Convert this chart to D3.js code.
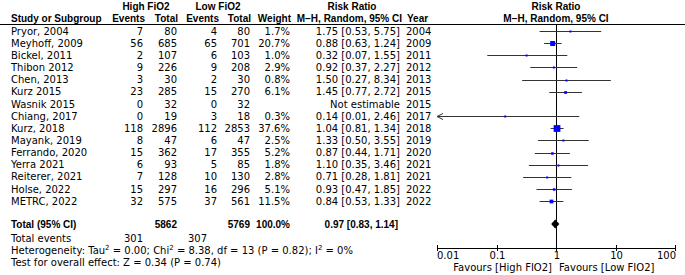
<!DOCTYPE html>
<html>
<head>
<meta charset="utf-8">
<script src="https://cdn.jsdelivr.net/npm/d3@7"></script>
<style>
  html, body { margin: 0; padding: 0; background: #fff; }
  svg { display: block; }
  text { font-family: "DejaVu Sans", sans-serif; font-size: 10px; fill: #000; }
  text.b { font-family: "Liberation Sans", Arial, sans-serif; font-weight: bold; font-size: 10px; }
</style>
</head>
<body>
<div id="chart"></div>
<script>
/* -------------------------------------------------------
   DATOS
------------------------------------------------------- */
const studies = ["Pryor, 2004", "Meyhoff, 2009", "Bickel, 2011", "Thibon 2012", "Chen, 2013",
    "Kurz 2015", "Wasnik 2015", "Chiang, 2017", "Kurz, 2018", "Mayank, 2019", "Ferrando, 2020",
    "Yerra 2021", "Reiterer, 2021", "Holse, 2022", "METRC, 2022"];
const highEvents = [7, 56, 2, 9, 3, 23, 0, 0, 118, 8, 15, 6, 7, 15, 32];
const highTotal = [80, 685, 107, 226, 30, 285, 32, 19, 2896, 47, 362, 93, 128, 297, 575];
const lowEvents = [4, 65, 6, 9, 2, 15, 0, 3, 112, 6, 17, 5, 10, 16, 37];
const lowTotal = [80, 701, 103, 208, 30, 270, 32, 18, 2853, 47, 355, 85, 130, 296, 561];
const weights = [1.7, 20.7, 1.0, 2.9, 0.8, 6.1, null, 0.3, 37.6, 2.5, 5.2, 1.8, 2.8, 5.1, 11.5];
const rr = [1.75, 0.88, 0.32, 0.92, 1.50, 1.45, null, 0.14, 1.04, 1.33, 0.87, 1.10, 0.71, 0.93, 0.84];
const ciLow = [0.53, 0.63, 0.07, 0.37, 0.27, 0.77, null, 0.01, 0.81, 0.50, 0.44, 0.35, 0.28, 0.47, 0.53];
const ciHigh = [5.75, 1.24, 1.55, 2.27, 8.34, 2.72, null, 2.46, 1.34, 3.55, 1.71, 3.46, 1.81, 1.85, 1.33];
const years = [2004, 2009, 2011, 2012, 2013, 2015, 2015, 2017, 2018, 2019, 2020, 2021, 2021, 2022, 2022];

const total = { high: 5862, low: 5769, weight: "100.0%", rr: 0.97, lo: 0.83, hi: 1.14 };
const totalEvents = [301, 307];
const tickValues = [0.01, 0.1, 1, 10, 100];
const tickLabels = ["0.01", "0.1", "1", "10", "100"];

/* -------------------------------------------------------
   LAYOUT
------------------------------------------------------- */
const W = 685, H = 275;
const rowY = i => 31 + i * 12.15;
const totalY = 224;

const svg = d3.select("#chart").append("svg").attr("width", W).attr("height", H);

const x = d3.scaleLog().domain([0.01, 100]).range([437, 675]);

function txt(xp, yp, s, anchor, cls) {
    return svg.append("text")
        .attr("x", xp).attr("y", yp)
        .attr("text-anchor", anchor || "start")
        .attr("class", cls || null)
        .text(s);
}

// columnas (borde derecho, salvo study / year)
const col = { study: 11, hEv: 143, hTot: 177, lEv: 217, lTot: 250, w: 290, ci: 400, year: 406 };

/* -------------------------------------------------------
   CABECERA
------------------------------------------------------- */
txt(146, 10, "High FiO2", "middle", "b");
txt(218, 10, "Low FiO2", "middle", "b");
txt(352, 10, "Risk Ratio", "middle", "b");
txt(556, 10, "Risk Ratio", "middle", "b");

txt(col.study, 22, "Study or Subgroup", "start", "b");
txt(col.hEv + 2, 22, "Events", "end", "b");
txt(col.hTot + 1, 22, "Total", "end", "b");
txt(col.lEv + 2, 22, "Events", "end", "b");
txt(col.lTot + 1, 22, "Total", "end", "b");
txt(col.w + 1, 22, "Weight", "end", "b");
txt(col.ci + 2, 22, "M\u2212H, Random, 95% CI", "end", "b");
txt(col.year + 1, 22, "Year", "start", "b");
txt(556, 22, "M\u2212H, Random, 95% CI", "middle", "b");

svg.append("line")
    .attr("x1", 0).attr("x2", W).attr("y1", 24.5).attr("y2", 24.5)
    .attr("stroke", "#000").attr("stroke-width", 1);

/* -------------------------------------------------------
   FILAS
------------------------------------------------------- */
studies.forEach((s, i) => {
    const yb = rowY(i) + 3.6;
    txt(col.study, yb, s);
    txt(col.hEv, yb, highEvents[i], "end");
    txt(col.hTot, yb, highTotal[i], "end");
    txt(col.lEv, yb, lowEvents[i], "end");
    txt(col.lTot, yb, lowTotal[i], "end");
    if (weights[i] != null) txt(col.w, yb, weights[i].toFixed(1) + "%", "end");
    const ci = rr[i] == null ? "Not estimable"
        : `${rr[i].toFixed(2)} [${ciLow[i].toFixed(2)}, ${ciHigh[i].toFixed(2)}]`;
    txt(col.ci, yb, ci, "end");
    txt(col.year, yb, years[i]);
});

// total
txt(col.study, totalY + 4, "Total (95% CI)", "start", "b");
txt(col.hTot, totalY + 4, total.high, "end", "b");
txt(col.lTot, totalY + 4, total.low, "end", "b");
txt(col.w, totalY + 4, total.weight, "end", "b");
txt(col.ci - 2, totalY + 4, `${total.rr.toFixed(2)} [${total.lo.toFixed(2)}, ${total.hi.toFixed(2)}]`, "end", "b");

txt(col.study, 241.5, "Total events");
txt(col.hEv, 241.5, totalEvents[0], "end");
txt(col.lEv - 10, 241.5, totalEvents[1], "end");

const het = txt(col.study, 253.5, "Heterogeneity: Tau");
het.append("tspan").attr("dy", -3.5).style("font-size", "7px").text("2");
het.append("tspan").attr("dy", 3.5).text(" = 0.00; Chi");
het.append("tspan").attr("dy", -3.5).style("font-size", "7px").text("2");
het.append("tspan").attr("dy", 3.5).text(" = 8.38, df = 13 (P = 0.82); I");
het.append("tspan").attr("dy", -3.5).style("font-size", "7px").text("2");
het.append("tspan").attr("dy", 3.5).text(" = 0%");

txt(col.study, 265.5, "Test for overall effect: Z = 0.34 (P = 0.74)");

/* -------------------------------------------------------
   GRÁFICO
------------------------------------------------------- */
const axisY = 248;

// línea vertical en 1
svg.append("line")
    .attr("x1", Math.round(x(1)) + 0.5).attr("x2", Math.round(x(1)) + 0.5)
    .attr("y1", 24.5).attr("y2", axisY)
    .attr("stroke", "#000").attr("stroke-width", 1);

const g = svg.append("g");

studies.forEach((s, i) => {
    if (rr[i] == null) return;
    const y = Math.round(rowY(i)) + 0.5;
    const x1 = x(Math.max(ciLow[i], 0.01)), x2 = x(Math.min(ciHigh[i], 100));
    g.append("line")
        .attr("x1", x1).attr("x2", x2).attr("y1", y).attr("y2", y)
        .attr("stroke", "#333").attr("stroke-width", 1);
    if (ciLow[i] <= 0.01) {
        g.append("path")
            .attr("d", `M${x1},${y} l6,-3 M${x1},${y} l6,3`)
            .attr("stroke", "#333").attr("fill", "none");
    }
    const side = Math.max(2, 11 * Math.sqrt(weights[i] / 100));
    g.append("rect")
        .attr("x", x(rr[i]) - side / 2).attr("y", y - side / 2)
        .attr("width", side).attr("height", side)
        .attr("fill", "#0000ff");
});

// diamante
g.append("path")
    .attr("d", `M${x(total.lo)},${totalY} L${x(total.rr)},${totalY - 4.5} L${x(total.hi)},${totalY} L${x(total.rr)},${totalY + 4.5}Z`)
    .attr("fill", "#000");

// eje
const axis = svg.append("g").attr("transform", `translate(0,${axisY})`);
axis.append("line").attr("x1", x(0.01)).attr("x2", x(100)).attr("y1", 0.5).attr("y2", 0.5)
    .attr("stroke", "#000");
tickValues.forEach((v, i) => {
    axis.append("line").attr("x1", Math.round(x(v)) + 0.5).attr("x2", Math.round(x(v)) + 0.5)
        .attr("y1", -3).attr("y2", 3).attr("stroke", "#000");
    const anchor = i === 0 ? "start" : i === tickValues.length - 1 ? "end" : "middle";
    axis.append("text")
        .attr("x", x(v) + (i === 0 ? 0 : 1))
        .attr("y", 11)
        .attr("text-anchor", anchor)
        .text(tickLabels[i]);
});

txt(x(1) - 4, 271, "Favours [High FIO2]", "end");
txt(x(1) + 3, 271, "Favours [Low FIO2]", "start");
</script>
</body>
</html>
